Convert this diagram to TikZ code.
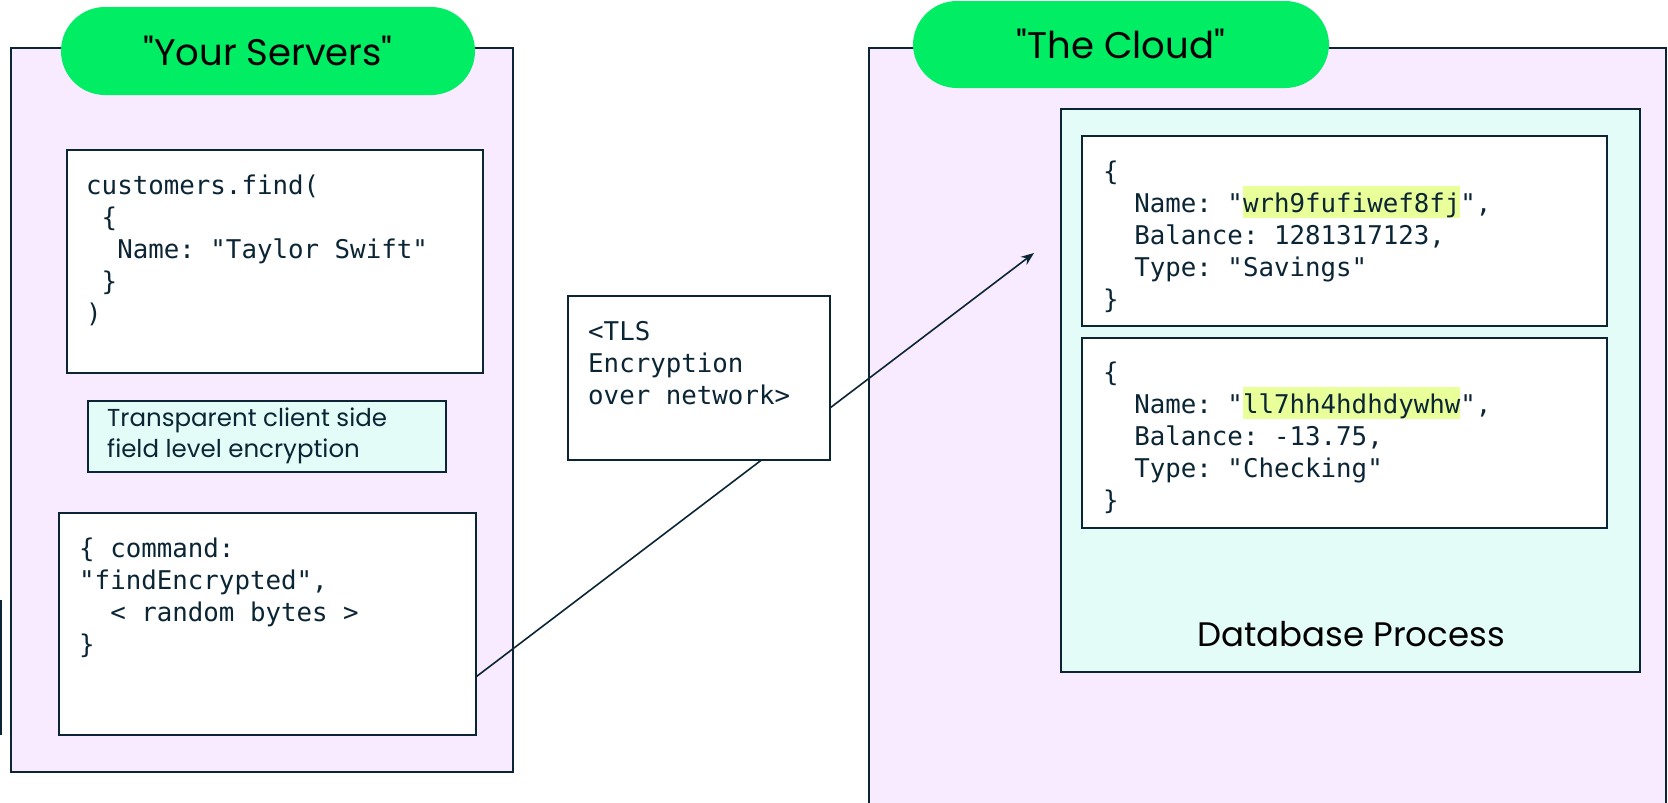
\documentclass[tikz,border=0pt]{standalone}
\usepackage{fontspec}
\usetikzlibrary{arrows.meta,calc}
\newfontfamily\codefont{DejaVu Sans Mono}
\newfontfamily\uifont{Poppins}
\definecolor{navy}{HTML}{0B2535}
\definecolor{lav}{HTML}{F8EAFF}
\definecolor{mint}{HTML}{E3FCF7}
\definecolor{mgreen}{HTML}{00ED64}
\definecolor{hlc}{HTML}{E9FF99}
\newcommand\codeblock[1]{\vtop{\frenchspacing\baselineskip=32pt\lineskiplimit=-100pt\parindent=0pt #1}}
\newcommand\uiblock[1]{\vtop{\baselineskip=31pt\lineskiplimit=-100pt\parindent=0pt #1}}
\newcommand\hlt[1]{\setbox0\hbox{#1}\rlap{\textcolor{hlc}{\rule[-6pt]{\wd0}{32pt}}}\box0}
\tikzset{
  panel/.style={draw=navy, fill=lav, line width=1.8pt},
  pill/.style={fill=mgreen, rounded corners=44pt},
  codebox/.style={draw=navy, fill=white, line width=1.8pt},
  mintbox/.style={draw=navy, fill=mint, line width=1.8pt},
  codetext/.style={anchor=base west, inner sep=0pt, text=navy, font=\codefont\fontsize{25.8}{32}\selectfont},
  uitext/.style={inner sep=0pt, text=black, font=\uifont},
  arr/.style={draw=navy, line width=1.6pt, -{Stealth[length=13pt,width=10pt]}}
}
\begin{document}
\begin{tikzpicture}[x=1pt,y=-1pt]
\useasboundingbox (0,0) rectangle (1668,803);
% left panel
\draw[panel] (11,48) rectangle (513,772);
\fill[pill] (61,7) rectangle (475,95);
\node[uitext, font=\uifont\fontsize{37}{40}\selectfont] (yourservers) at (268,51) {"Your Servers"};
% stray line at left edge
\draw[navy, line width=1.8pt] (1,600) -- (1,735);
% code box 1
\draw[codebox] (67,150) rectangle (483,373);
\node[codetext] (find) at (86,194) {\codeblock{%
\hbox{customers.find(}%
\hbox{\ \{}%
\hbox{\ \ Name: "Taylor Swift"}%
\hbox{\ \}}%
\hbox{)}}};
% transparent box
\draw[mintbox] (88,401) rectangle (446,472);
\node[uitext, anchor=base west, font=\uifont\fontsize{24.5}{31}\selectfont, text=navy] (fle) at (107,426) {\uiblock{%
\hbox{Transparent client side}%
\hbox{field level encryption}}};
% command box
\node[codebox, minimum width=417pt, minimum height=222pt, anchor=north west, inner sep=0pt] (cmd) at (58,512) {};
\node[codetext] (cmdtext) at (79,557) {\codeblock{%
\hbox{\{ command:}%
\hbox{"findEncrypted",}%
\hbox{\ \ < random bytes >}%
\hbox{\}}}};
% right panel
\draw[panel] (869,48) rectangle (1666,830);
\fill[pill] (913,1) rectangle (1329,88);
\node[uitext, font=\uifont\fontsize{37}{40}\selectfont] (cloud) at (1121,44) {"The Cloud"};
% database process
\draw[mintbox] (1061,109) rectangle (1640,672);
\node[uitext, anchor=base, font=\uifont\fontsize{34}{40}\selectfont] (dbp) at (1351,646) {Database Process};
\draw[codebox] (1082,136) rectangle (1607,326);
\node[codetext] (rec1) at (1103,180) {\codeblock{%
\hbox{\{}%
\hbox{\ \ Name: "\hlt{wrh9fufiwef8fj}",}%
\hbox{\ \ Balance: 1281317123,}%
\hbox{\ \ Type: "Savings"}%
\hbox{\}}}};
\draw[codebox] (1082,338) rectangle (1607,528);
\node[codetext] (rec2) at (1103,381) {\codeblock{%
\hbox{\{}%
\hbox{\ \ Name: "\hlt{ll7hh4hdhdywhw}",}%
\hbox{\ \ Balance: -13.75,}%
\hbox{\ \ Type: "Checking"}%
\hbox{\}}}};
% arrow
\coordinate (tip) at (1034,253);
\draw[arr] ($(cmd.north east)!0.734!(cmd.south east)$) -- (tip);
% TLS box on top
\draw[codebox] (568,296) rectangle (830,460);
\node[codetext] (tls) at (588,340) {\codeblock{%
\hbox{<TLS}%
\hbox{Encryption}%
\hbox{over network>}}};
\end{tikzpicture}
\end{document}
